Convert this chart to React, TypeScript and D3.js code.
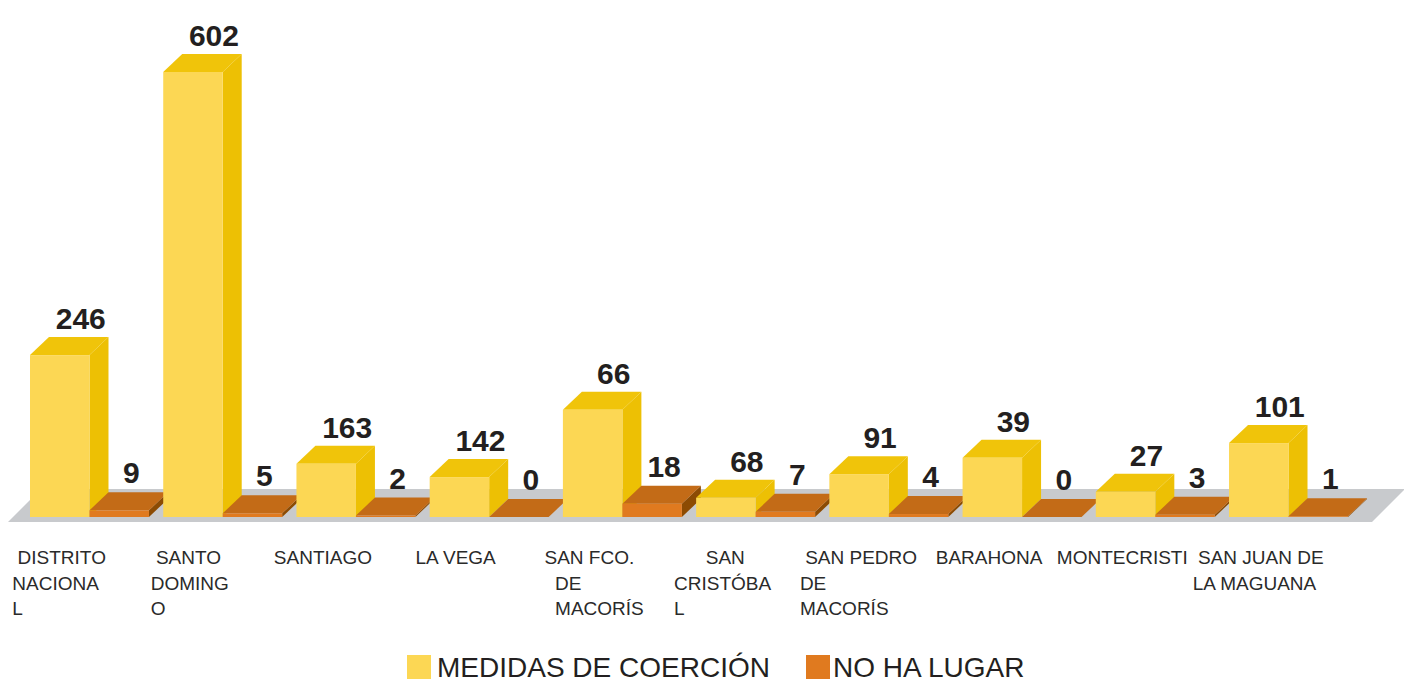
import React from 'react';
import * as d3 from 'd3';

// provinces, and how each axis label wraps in the source
const provinces = [
    'DISTRITO NACIONAL', 'SANTO DOMINGO', 'SANTIAGO', 'LA VEGA', 'SAN FCO. DE MACORÍS',
    'SAN CRISTÓBAL', 'SAN PEDRO DE MACORÍS', 'BARAHONA', 'MONTECRISTI', 'SAN JUAN DE LA MAGUANA'
];
const tickLines = [
    [' DISTRITO', 'NACIONA', 'L'],
    [' SANTO', 'DOMING', 'O'],
    ['SANTIAGO'],
    ['LA VEGA'],
    ['SAN FCO.', '  DE', '  MACORÍS'],
    ['      SAN', 'CRISTÓBA', 'L'],
    [' SAN PEDRO', 'DE', 'MACORÍS'],
    ['BARAHONA'],
    ['MONTECRISTI'],
    [' SAN JUAN DE', 'LA MAGUANA']
];

// printed values
const medidas = [246, 602, 163, 142, 66, 68, 91, 39, 27, 101];
const noHaLugar = [9, 5, 2, 0, 18, 7, 4, 0, 3, 1];
// heights the source actually drew the yellow bars at (they don't follow the printed labels)
const medidasDrawn = [219, 602, 72, 54, 145, 26, 58, 80, 34, 100];

const seriesNames = ['MEDIDAS DE COERCIÓN', 'NO HA LUGAR'];

const W = 1404, H = 682;
const DX = 19, DY = 18;
const C = {
    yFront: '#FCD754', yTop: '#F0C40A', ySide: '#EDC004',
    oFront: '#E07A1F', oTop: '#C36B17', oSide: '#8C4B03',
    floor: '#C8CACD', text: '#231F20'
};

const measure = (() => {
    const ctx = document.createElement('canvas').getContext('2d');
    return (s: string, font: string) => {
        if (!ctx) return s.length * 10;
        ctx.font = font;
        return ctx.measureText(s).width;
    };
})();

const Box = ({x, w, top, base, front, topC, side}: any) => (
    <g>
        <polygon points={`${x + w},${top} ${x + w + DX},${top - DY} ${x + w + DX},${base - DY} ${x + w},${base}`} fill={side}/>
        <polygon points={`${x},${top} ${x + w},${top} ${x + w + DX},${top - DY} ${x + DX},${top - DY}`} fill={topC}/>
        <rect x={x} y={top} width={w} height={base - top} fill={front}/>
    </g>
);

const App = () => {
    const x = d3.scaleBand<string>().domain(provinces).range([30, 1348]).paddingInner(0.107).paddingOuter(0);
    const y = d3.scaleLinear().domain([0, 602]).range([517, 72]);
    const bw = x.bandwidth() / 2;
    const base = y(0);
    const [x0, x1] = x.range();
    const tickFont = '19px "Liberation Sans"';

    return (
        <svg width={W} height={H} style={{position: 'absolute', left: 0, top: 0}}
             fontFamily='"Liberation Sans", Arial, sans-serif'>
            <rect width={W} height={H} fill="#fff"/>
            <polygon fill={C.floor}
                     points={`${x0 - 22},${base + 5} ${x1 + 24},${base + 5} ${x1 + 57},${base - 28} ${x0 + 11},${base - 28}`}/>
            {provinces.map((p, i) => {
                const gx = x(p) as number;
                const yt = y(medidasDrawn[i]);
                const ot = y(noHaLugar[i]);
                return (
                    <g key={p}>
                        <Box x={gx} w={bw} top={yt} base={base} front={C.yFront} topC={C.yTop} side={C.ySide}/>
                        <Box x={gx + bw} w={bw} top={ot} base={base} front={C.oFront} topC={C.oTop} side={C.oSide}/>
                        <text x={gx + bw / 2 + 21} y={yt - DY - 8} textAnchor="middle" fontWeight="bold"
                              fontSize={30} fill={C.text}>{medidas[i]}</text>
                        <text x={gx + bw * 1.5 + 12} y={ot - DY - 9} textAnchor="middle" fontWeight="bold"
                              fontSize={30} fill={C.text}>{noHaLugar[i]}</text>
                    </g>
                );
            })}
            {provinces.map((p, i) => {
                const lines = tickLines[i];
                const widest = d3.max(lines, l => measure(l.trim(), tickFont)) as number;
                const cx = (x(p) as number) + x.bandwidth() / 2 - 33;
                const left = cx - widest / 2;
                return (
                    <text key={p} fontSize={19} fill="#2a2a2a" style={{whiteSpace: 'pre'}}>
                        {lines.map((l, j) => (
                            <tspan key={j} x={left} y={564 + j * 25.5}>{l}</tspan>
                        ))}
                    </text>
                );
            })}
            <g>
                <rect x={407} y={655} width={24} height={24} fill={C.yFront}/>
                <text x={437} y={677} fontSize={28} fill={C.text}>{seriesNames[0]}</text>
                <rect x={806} y={655} width={24} height={24} fill={C.oFront}/>
                <text x={833} y={677} fontSize={28} fill={C.text}>{seriesNames[1]}</text>
            </g>
        </svg>
    );
};

export default App;
